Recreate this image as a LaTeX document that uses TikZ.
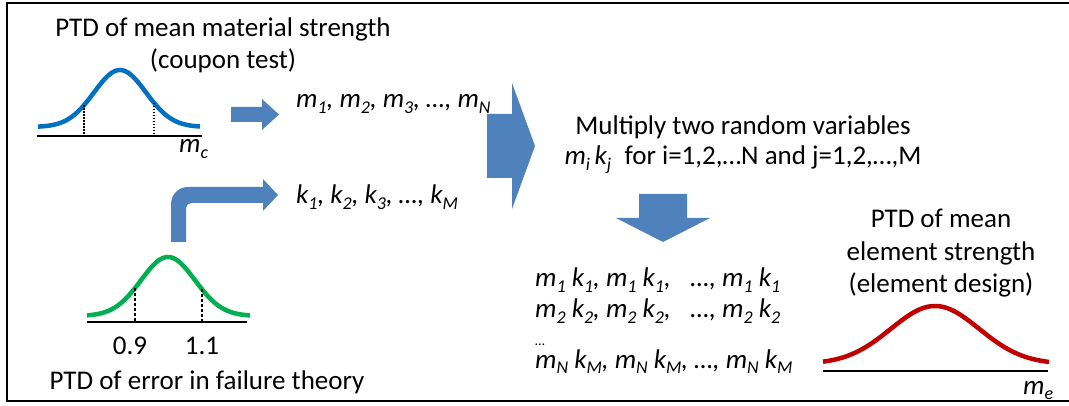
\documentclass[tikz,border=0pt]{standalone}
\usepackage{fontspec}
\setmainfont{Carlito}
\definecolor{arrowblue}{HTML}{4F81BD}
\definecolor{curveblue}{HTML}{0070C0}
\definecolor{curvegreen}{HTML}{00B050}
\definecolor{curvered}{HTML}{C00000}
\newcommand\sbs[1]{\raisebox{-0.22em}{\fontsize{18}{18}\selectfont #1}}
\begin{document}
\begin{tikzpicture}[x=1pt,y=-1pt,
  lbl/.style={font=\fontsize{27}{32}\selectfont, inner sep=0pt},
  blockarrow/.style={fill=arrowblue, draw=none},
  curve/.style={line width=4.5pt},
  axisline/.style={line width=1.6pt, black},
  dotline/.style={line width=1.5pt, dash pattern=on 1.5pt off 1.5pt},
  dashline/.style={line width=1.2pt, dash pattern=on 3pt off 2pt}]
\useasboundingbox (0,0) rectangle (1069,406);
% frame
\draw[line width=2pt] (1069,3) -- (7,3) -- (7,401) -- (1069,401);

% ---- blue (coupon test) distribution
\node[lbl, anchor=base] (t1) at (223,37) {PTD of mean material strength};
\node[lbl, anchor=base] (t1b) at (223,69) {(coupon test)};
\draw[curve, curveblue] plot[domain=38:200, samples=90, smooth] (\x, {127-57*exp(-((\x-120)^2)/1352)});
\draw[axisline] (37,136) -- (202,136);
\draw[dotline] (84,{127-57*exp(-(36^2)/1352)}) -- (84,136);
\draw[dotline] (154,{127-57*exp(-(34^2)/1352)}) -- (154,136);
\node[lbl, anchor=base west] (mc) at (179,153) {\itshape m\sbs{c}};

% ---- small arrow to m list
\fill[blockarrow] (231,107) -- (262,107) -- (262,99) -- (279,114.5) -- (262,130) -- (262,122) -- (231,122) -- cycle;
\node[lbl, anchor=base west] (mlist) at (296,108) {\itshape m\sbs{1}, m\sbs{2}, m\sbs{3}, …, m\sbs{N}};

% ---- bent arrow to k list
\fill[blockarrow] (171,242) -- (171,204) .. controls (171,194.6) and (178.6,187) .. (188,187)
  -- (263,187) -- (263,179) -- (278,195) -- (263,211) -- (263,203) -- (191,203)
  .. controls (188.2,203) and (186,205.8) .. (186,208) -- (186,242) -- cycle;
\node[lbl, anchor=base west] (klist) at (296,204) {\itshape k\sbs{1}, k\sbs{2}, k\sbs{3}, …, k\sbs{M}};

% ---- big arrow
\fill[blockarrow] (487,114) -- (512,114) -- (512,83) -- (535,146) -- (512,209) -- (512,178) -- (487,178) -- cycle;

% ---- multiply text
\node[lbl, anchor=base] (mult1) at (743,135) {Multiply two random variables};
\node[lbl, anchor=base] (mult2) at (743,165) {\textit{m\sbs{i}\,k\sbs{j}}\enspace for i=1,2,…N and j=1,2,…,M};

% ---- down arrow
\fill[blockarrow] (639,194) -- (687,194) -- (687,218) -- (710,218) -- (663,242) -- (616,218) -- (639,218) -- cycle;

% ---- product rows
\node[lbl, anchor=base west] (row1) at (535,287) {\itshape m\sbs{1} k\sbs{1}, m\sbs{1} k\sbs{1},\hspace{20pt}…, m\sbs{1} k\sbs{1}};
\node[lbl, anchor=base west] (row2) at (535,318) {\itshape m\sbs{2} k\sbs{2}, m\sbs{2} k\sbs{2},\hspace{20pt}…, m\sbs{2} k\sbs{2}};
\node[inner sep=0pt, font=\fontsize{14}{14}\selectfont, anchor=base west] (row3) at (535,345) {…};
\node[lbl, anchor=base west] (row4) at (535,368) {\itshape m\sbs{N} k\sbs{M}, m\sbs{N} k\sbs{M}, …, m\sbs{N} k\sbs{M}};

% ---- green (error) distribution
\draw[curve, curvegreen] plot[domain=87:250, samples=90, smooth] (\x, {316-59*exp(-((\x-168)^2)/1458)});
\draw[axisline] (87,322) -- (247,322);
\draw[dashline] (135,{316-59*exp(-(33^2)/1458)}) -- (135,322);
\draw[dashline] (202,{316-59*exp(-(34^2)/1458)}) -- (202,322);
\node[lbl, anchor=base] (g09) at (130,354) {0.9};
\node[lbl, anchor=base] (g11) at (202,354) {1.1};
\node[lbl, anchor=base] (t2) at (207,389) {PTD of error in failure theory};

% ---- red (element) distribution
\node[lbl, anchor=base] (t3a) at (941,228) {PTD of mean};
\node[lbl, anchor=base] (t3b) at (941,260.5) {element strength};
\node[lbl, anchor=base] (t3c) at (941,293) {(element design)};
\draw[curve, curvered] plot[domain=823:1049, samples=110, smooth] (\x, {364-58*exp(-((\x-935)^2)/3900)});
\draw[axisline] (823,371) -- (1048,371);
\node[lbl, anchor=base west] (me) at (1023,394) {\itshape m\sbs{e}};
\end{tikzpicture}
\end{document}
